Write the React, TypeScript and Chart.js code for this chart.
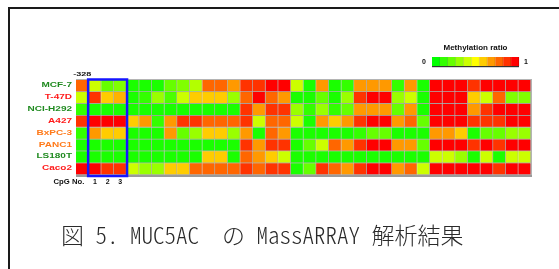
import React, { useEffect, useRef } from 'react';
import { Chart, registerables } from 'chart.js';

Chart.register(...registerables);

// ---- data ----
const cellLines = ['MCF-7', 'T-47D', 'NCI-H292', 'A427', 'BxPC-3', 'PANC1', 'LS180T', 'Caco2'];
const cellLineColors = ['#1f8a1f', '#ff1a1a', '#1f8a1f', '#ff1a1a', '#ff7a1a', '#ff7a1a', '#1f8a1f', '#ff1a1a'];

const cpgUnits = [
  '-328', '1', '2', '3', '4', '5', '6', '7', '8', '9', '10', '11', '12', '13', '14', '15', '16', '17',
  '18', '19', '20', '21', '22', '23', '24', '25', '26', '27', '28', '29', '30', '31', '32', '33', '34', '35',
];
const labelledCpG = ['1', '2', '3'];
const highlightedCpG = ['1', '3'];
const positionLabel = '-328';
const cpgAxisTitle = 'CpG No.';

const mcf7 = [0.8, 0.4, 0.2, 0.25, 0.05, 0.05, 0.05, 0.2, 0.25, 0.35, 0.8, 0.8, 0.7, 0.9, 0.9, 1.0, 1.0, 0.4, 0.05, 0.7, 0.05, 0.1, 0.7, 0.7, 0.7, 0.1, 0.7, 0.05, 1.0, 1.0, 1.0, 0.9, 1.0, 1.0, 1.0, 1.0];
const t47d = [0.4, 0.9, 0.6, 0.65, 0.05, 0.1, 0.3, 0.15, 0.4, 0.6, 0.6, 0.6, 0.3, 0.8, 1.0, 0.8, 0.7, 0.05, 0.05, 0.2, 0.05, 0.3, 0.9, 1.0, 1.0, 0.3, 0.4, 0.05, 1.0, 1.0, 1.0, 0.6, 0.4, 0.8, 0.25, 0.25];
const nciH292 = [0.1, 0.05, 0.05, 0.05, 0.05, 0.05, 0.05, 0.05, 0.05, 0.05, 0.05, 0.05, 0.05, 0.9, 0.7, 0.9, 0.9, 0.3, 0.1, 0.3, 0.1, 0.2, 0.7, 0.7, 0.7, 0.2, 0.7, 0.05, 1.0, 1.0, 1.0, 0.7, 0.9, 1.0, 1.0, 1.0];
const a427 = [0.9, 1.0, 1.0, 1.0, 0.6, 0.7, 0.1, 0.7, 0.9, 0.9, 0.8, 0.8, 0.8, 0.9, 0.4, 0.8, 0.8, 0.4, 0.05, 0.7, 0.6, 0.7, 0.9, 1.0, 1.0, 0.7, 0.8, 0.2, 1.0, 1.0, 1.0, 0.9, 0.9, 0.9, 1.0, 1.0];
const bxpc3 = [0.1, 0.7, 0.6, 0.6, 0.05, 0.05, 0.05, 0.7, 0.2, 0.3, 0.6, 0.6, 0.3, 0.7, 0.05, 0.8, 0.7, 0.05, 0.05, 0.05, 0.05, 0.05, 0.1, 0.2, 0.2, 0.05, 0.05, 0.05, 0.7, 0.7, 0.6, 0.05, 0.2, 0.2, 0.3, 0.3];
const panc1 = [0.05, 0.05, 0.05, 0.05, 0.05, 0.05, 0.05, 0.05, 0.05, 0.05, 0.05, 0.05, 0.05, 0.9, 0.7, 0.9, 0.9, 0.05, 0.2, 0.4, 0.8, 0.7, 0.9, 1.0, 1.0, 0.7, 0.7, 0.2, 1.0, 1.0, 1.0, 0.9, 1.0, 0.9, 1.0, 1.0];
const ls180t = [0.05, 0.05, 0.05, 0.05, 0.05, 0.05, 0.05, 0.05, 0.05, 0.05, 0.6, 0.6, 0.05, 0.8, 0.7, 0.6, 0.4, 0.05, 0.05, 0.05, 0.05, 0.05, 0.05, 0.05, 0.05, 0.05, 0.05, 0.05, 0.4, 0.4, 0.3, 0.05, 0.4, 0.05, 0.4, 0.4];
const caco2 = [1.0, 1.0, 0.9, 0.9, 0.4, 0.3, 0.3, 0.6, 0.6, 0.8, 0.8, 0.8, 0.8, 0.9, 0.8, 0.9, 0.9, 0.05, 0.2, 0.9, 0.8, 0.7, 0.9, 1.0, 1.0, 0.7, 0.8, 0.4, 1.0, 1.0, 1.0, 1.0, 1.0, 0.9, 1.0, 1.0];

const methylationRows = [mcf7, t47d, nciH292, a427, bxpc3, panc1, ls180t, caco2];

const legendTitle = 'Methylation ratio';
const legendSteps = [0, 0.1, 0.2, 0.3, 0.4, 0.5, 0.6, 0.7, 0.8, 0.9, 1.0];
const legendMinLabel = '0';
const legendMaxLabel = '1';

const captionFigure = '図';
const captionNumber = ' 5. ';
const captionGene = 'MUC5AC';
const captionNo = 'の';
const captionMethod = 'MassARRAY';
const captionResult = '解析結果';

// ---- helpers ----
const ratioColor = (v: number) => `hsl(${120 * (1 - v)}, 100%, 50%)`;

const stretchedText = (ctx: any, text: string, x: number, y: number, sx: number) => {
  ctx.save();
  ctx.translate(x, y);
  ctx.scale(sx, 1);
  ctx.fillText(text, 0, 0);
  ctx.restore();
};

const overlayPlugin = {
  id: 'heatmapOverlay',
  afterDraw(chart: any) {
    const { ctx, chartArea: area } = chart;
    const xs = chart.scales.x;
    const ys = chart.scales.y;
    const colW = (area.right - area.left) / cpgUnits.length;
    ctx.save();

    // frame of the grid
    ctx.fillStyle = '#b4b4b4';
    ctx.fillRect(area.left, area.top - 1, area.right - area.left, 1);
    ctx.fillRect(area.right, area.top - 1, 1, area.bottom - area.top + 1);
    ctx.fillStyle = '#9a9a9a';
    ctx.fillRect(area.left, area.bottom, area.right - area.left + 1, 2);

    // row labels
    ctx.font = 'bold 8px "Liberation Sans", Arial, sans-serif';
    ctx.textAlign = 'right';
    ctx.textBaseline = 'middle';
    cellLines.forEach((name, r) => {
      ctx.fillStyle = cellLineColors[r];
      stretchedText(ctx, name, area.left - 4, ys.getPixelForValue(r + 0.5) - 1, 1.25);
    });

    // highlighted CpG box
    const i0 = cpgUnits.indexOf(highlightedCpG[0]);
    const i1 = cpgUnits.indexOf(highlightedCpG[1]);
    const bx0 = xs.getPixelForValue(i0) - colW / 2;
    const bx1 = xs.getPixelForValue(i1) + colW / 2;
    ctx.strokeStyle = '#1515ff';
    ctx.lineWidth = 2.5;
    ctx.strokeRect(bx0 - 0.5, area.top - 0.5, bx1 - bx0 + 1, area.bottom - area.top + 1.5);

    // position label
    ctx.fillStyle = '#111';
    ctx.font = 'bold 6px "Liberation Sans", Arial, sans-serif';
    ctx.textAlign = 'center';
    stretchedText(ctx, positionLabel, xs.getPixelForValue(0), area.top - 6, 1.5);

    // CpG numbers
    ctx.font = 'bold 7px "Liberation Sans", Arial, sans-serif';
    ctx.textAlign = 'right';
    stretchedText(ctx, cpgAxisTitle, xs.getPixelForValue(0) + 2, area.bottom + 7, 1.1);
    ctx.textAlign = 'center';
    labelledCpG.forEach((lab) => {
      ctx.fillText(lab, xs.getPixelForValue(cpgUnits.indexOf(lab)), area.bottom + 7);
    });

    // legend
    const lx0 = 432;
    const lx1 = 519;
    const ly0 = 57;
    const ly1 = 66;
    const bw = (lx1 - lx0) / legendSteps.length;
    legendSteps.forEach((v, i) => {
      ctx.fillStyle = ratioColor(v);
      ctx.fillRect(lx0 + i * bw, ly0, bw, ly1 - ly0);
      ctx.fillStyle = 'rgba(0,0,0,0.25)';
      ctx.fillRect(lx0 + (i + 1) * bw - 0.5, ly0, 0.7, ly1 - ly0);
    });
    ctx.fillStyle = '#333';
    ctx.fillRect(lx0, ly1, lx1 - lx0, 1.2);
    ctx.fillStyle = '#111';
    ctx.font = 'bold 8px "Liberation Sans", Arial, sans-serif';
    ctx.textAlign = 'center';
    ctx.fillText(legendTitle, (lx0 + lx1) / 2, 48);
    ctx.font = 'bold 7px "Liberation Sans", Arial, sans-serif';
    ctx.fillText(legendMinLabel, 424, 62);
    ctx.fillText(legendMaxLabel, 526, 62);

    ctx.restore();
  },
};

export default function App() {
  const canvasRef = useRef<HTMLCanvasElement | null>(null);

  useEffect(() => {
    if (!canvasRef.current) return;
    const chart = new Chart(canvasRef.current, {
      type: 'bar',
      data: {
        labels: cpgUnits,
        datasets: methylationRows.map((vals, r) => ({
          label: cellLines[r],
          data: vals.map(() => [r, r + 1]),
          backgroundColor: vals.map(ratioColor),
          borderColor: 'rgba(0,0,0,0.32)',
          borderWidth: { top: 0, left: 0, right: 1, bottom: 1 },
          borderSkipped: false,
          barPercentage: 1,
          categoryPercentage: 1,
          grouped: false,
        })) as any,
      },
      options: {
        animation: false,
        responsive: false,
        events: [],
        layout: { padding: { left: 76, right: 28, top: 80, bottom: 94 } },
        scales: {
          x: { type: 'category', display: false, offset: true },
          y: { type: 'linear', display: false, min: 0, max: 8, reverse: true },
        },
        plugins: {
          legend: { display: false },
          tooltip: { enabled: false },
          title: { display: false },
        },
      },
      plugins: [overlayPlugin],
    });
    return () => chart.destroy();
  }, []);

  const half: React.CSSProperties = {
    fontFeatureSettings: '"hwid" 1',
  };

  return (
    <div style={{ position: 'fixed', left: 0, top: 0, width: 559, height: 269, background: '#fff', overflow: 'hidden' }}>
      <div
        style={{
          position: 'absolute',
          left: 8,
          top: 7,
          width: 560,
          height: 270,
          borderTop: '2px solid #1a1a1a',
          borderLeft: '2px solid #1a1a1a',
        }}
      />
      <canvas ref={canvasRef} width={559} height={269} style={{ position: 'absolute', left: 0, top: 0 }} />
      <div
        style={{
          position: 'absolute',
          left: 61,
          top: 222,
          fontSize: 23,
          lineHeight: '24px',
          whiteSpace: 'pre',
          color: '#2a2a2a',
          fontFamily: '"Noto Sans CJK JP", sans-serif',
          fontWeight: 300,
        }}
      >
        {captionFigure}
        <span style={half}>{captionNumber}{captionGene}  </span>
        {captionNo}
        <span style={half}> {captionMethod} </span>
        {captionResult}
      </div>
    </div>
  );
}
